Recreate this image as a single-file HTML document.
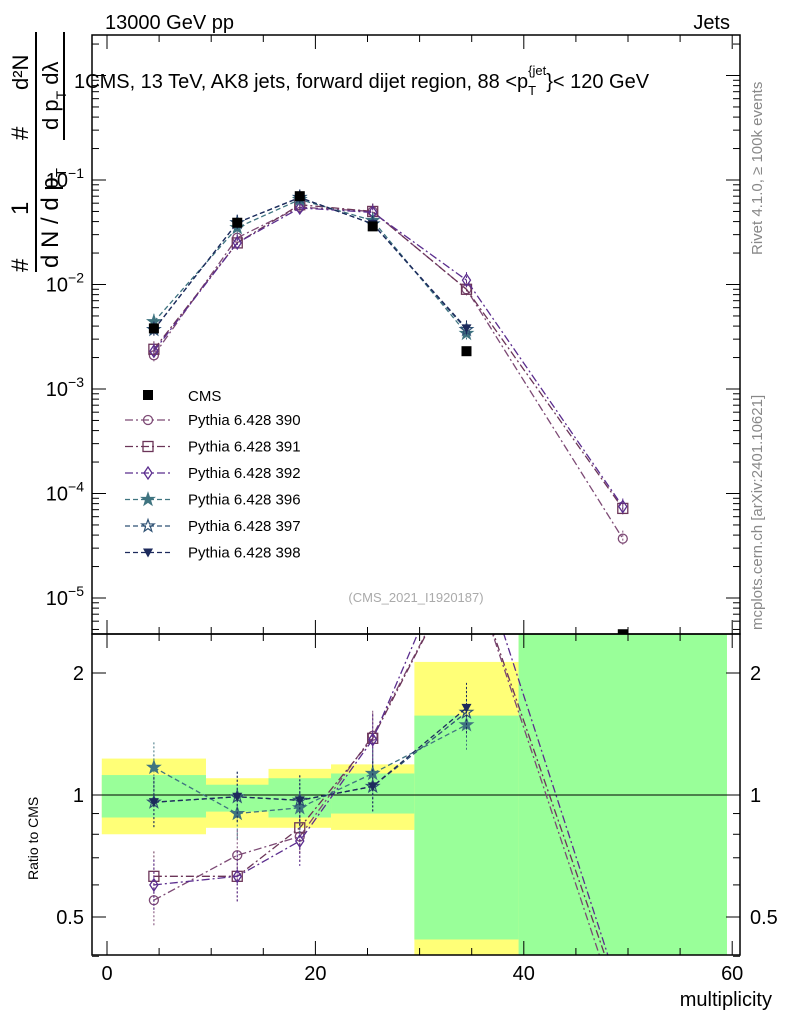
<!DOCTYPE html>
<html><head><meta charset="utf-8"><style>
body{margin:0;background:#fff;}
svg{display:block;font-family:"Liberation Sans",sans-serif;}
</style></head><body>
<svg id="c" width="786" height="1024" viewBox="0 0 786 1024">
<defs>
<clipPath id="cm"><rect x="92" y="35" width="648" height="599"/></clipPath>
<clipPath id="cr"><rect x="92" y="634" width="648" height="321"/></clipPath>
</defs>
<g id="bands" clip-path="url(#cr)"></g>
<g id="main" clip-path="url(#cm)"></g>
<g id="ratio" clip-path="url(#cr)"></g>
<g id="axes"></g>
<text x="105" y="29" font-size="20">13000 GeV pp</text>
<text x="730" y="29" font-size="20" text-anchor="end">Jets</text>
<text x="74" y="88" font-size="20">1CMS, 13 TeV, AK8 jets, forward dijet region, 88 &lt;p<tspan font-size="13" dy="7">T</tspan><tspan font-size="13" dy="-20" dx="-8">{jet</tspan><tspan dy="13">}&lt; 120 GeV</tspan></text>
<text x="416" y="602" font-size="13" fill="#aaa" text-anchor="middle">(CMS_2021_I1920187)</text>
<text transform="translate(762,255) rotate(-90)" font-size="15" fill="#888">Rivet 4.1.0, ≥ 100k events</text>
<text transform="translate(762,630) rotate(-90)" font-size="15" fill="#888">mcplots.cern.ch [arXiv:2401.10621]</text>
<g font-size="24">
<text transform="translate(28,272) rotate(-90)">#</text>
<text transform="translate(28,215) rotate(-90)">1</text>
<line x1="36" y1="32" x2="36" y2="272" stroke="#000" stroke-width="2"/>
<text transform="translate(58,268) rotate(-90)">d N / d p<tspan font-size="15" dy="8">T</tspan></text>
<text transform="translate(28,140) rotate(-90)">#</text>
<line x1="64" y1="32" x2="64" y2="140" stroke="#000" stroke-width="2"/>
<text transform="translate(58,130) rotate(-90)" font-size="22">d p<tspan font-size="14" dy="8">T</tspan><tspan dy="-8"> d</tspan>λ</text>
<text transform="translate(28,90) rotate(-90)" font-size="22">d²N</text>
</g>
<text transform="translate(38,880) rotate(-90)" font-size="14">Ratio to CMS</text>
<text x="772" y="1006" font-size="20" text-anchor="end">multiplicity</text>
<g id="legend"></g>
</svg>
<script>
const binEdges=[-0.5,9.5,15.5,21.5,29.5,39.5,59.5];
const binCenters=[4.5,12.5,18.5,25.5,34.5,49.5];
const cmsValues=[3.8e-3,0.039,0.07,0.036,2.3e-3,4.5e-6];
const bandGreenHi=[1.12,1.06,1.1,1.13,1.57,3];
const bandGreenLo=[0.88,0.91,0.88,0.9,0.44,0.3];
const bandYellowHi=[1.23,1.1,1.16,1.19,2.13,3];
const bandYellowLo=[0.8,0.83,0.83,0.82,0.3,0.3];
const seriesNames=["Pythia 6.428 390","Pythia 6.428 391","Pythia 6.428 392","Pythia 6.428 396","Pythia 6.428 397","Pythia 6.428 398"];
const s390=[2.1e-3,0.028,0.055,0.05,0.009,3.7e-5];
const s391=[2.4e-3,0.025,0.058,0.05,0.009,7.2e-5];
const s392=[2.3e-3,0.025,0.054,0.049,0.011,7.5e-5];
const s396=[4.4e-3,0.035,0.065,0.041,3.4e-3];
const s397=[3.7e-3,0.039,0.068,0.038,3.7e-3];
const s398=[3.7e-3,0.039,0.068,0.038,3.8e-3];
const r390=[0.55,0.71,0.79,1.4,3.9,0.27];
const r391=[0.63,0.63,0.83,1.38,3.9,0.3];
const r392=[0.6,0.63,0.77,1.37,4.8,0.31];
const r396=[1.17,0.9,0.93,1.13,1.49];
const r397=[0.96,0.99,0.97,1.05,1.6];
const r398=[0.96,0.99,0.97,1.05,1.64];
const xTicks=[0,20,40,60];
const yTickExp=[-5,-4,-3,-2,-1];
const rTicks=[0.5,1,2];

const NS="http://www.w3.org/2000/svg";
const X=v=>107+(v)*10.42;
const Y=v=>180-(Math.log10(v)+1)*104.5;
const R=v=>795-Math.log2(v)*122;
function mk(t,a,p){const e=document.createElementNS(NS,t);for(const k in a)e.setAttribute(k,a[k]);p.appendChild(e);return e;}
const bands=document.getElementById('bands'),main=document.getElementById('main'),ratio=document.getElementById('ratio'),axes=document.getElementById('axes'),leg=document.getElementById('legend');
for(let i=0;i<6;i++){
 const x0=X(binEdges[i]),x1=X(binEdges[i+1]);
 let e=mk('rect',{x:x0,y:R(bandYellowHi[i]),width:x1-x0,height:R(bandYellowLo[i])-R(bandYellowHi[i]),fill:'#ffff77'},bands);
 
 e=mk('rect',{x:x0,y:R(bandGreenHi[i]),width:x1-x0,height:R(bandGreenLo[i])-R(bandGreenHi[i]),fill:'#99ff99'},bands);
 
}
mk('line',{x1:92,x2:740,y1:R(1),y2:R(1),stroke:'#000'},ratio);
const series=[[s390,r390,'#7d4a75','o','8,3,2,3'],[s391,r391,'#6b3558','s','8,3,2,3'],[s392,r392,'#5b2d8e','d','8,3,2,3'],[s396,r396,'#3f7480','*','5,3'],[s397,r397,'#2f5274','*o','5,3'],[s398,r398,'#1d2a5c','v','5,3']];
function marker(type,x,y,c,g){
 let e;
 if(type=='o')e=mk('circle',{cx:x,cy:y,r:4.5,fill:'none',stroke:c,'stroke-width':1.3},g);
 else if(type=='s')e=mk('rect',{x:x-5,y:y-5,width:10,height:10,fill:'none',stroke:c,'stroke-width':1.3},g);
 else if(type=='d')e=mk('polygon',{points:`${x},${y-6} ${x+4},${y} ${x},${y+6} ${x-4},${y}`,fill:'none',stroke:c,'stroke-width':1.3},g);
 else if(type=='v')e=mk('polygon',{points:`${x-5},${y-4} ${x+5},${y-4} ${x},${y+5}`,fill:c},g);
 else {let p='';for(let k=0;k<10;k++){const a=-Math.PI/2+k*Math.PI/5,rr=k%2?2.6:6.5;p+=`${x+rr*Math.cos(a)},${y+rr*Math.sin(a)} `;}
  e=mk('polygon',{points:p,fill:type=='*'?c:'none',stroke:c,'stroke-width':1.2},g);}
 
}
series.forEach((s,k)=>{
 const [mv,rv,c,m,d]=s;
 let pm=mv.map((v,i)=>X(binCenters[i])+','+Y(v)).join(' ');
 let e=mk('polyline',{points:pm,fill:'none',stroke:c,'stroke-width':1.3,'stroke-dasharray':d},main);
 
 let pr=rv.map((v,i)=>X(binCenters[i])+','+R(v)).join(' ');
 e=mk('polyline',{points:pr,fill:'none',stroke:c,'stroke-width':1.3,'stroke-dasharray':d},ratio);
 
 mv.forEach((v,i)=>{const x=X(binCenters[i]),y=Y(v);
  mk('line',{x1:x,x2:x,y1:y-8,y2:y+8,stroke:c,'stroke-dasharray':'2,2'},main);marker(m,x,y,c,main);});
 rv.forEach((v,i)=>{const x=X(binCenters[i]),y=R(v);
  mk('line',{x1:x,x2:x,y1:y-25,y2:y+25,stroke:c,'stroke-dasharray':'2,2'},ratio);marker(m,x,y,c,ratio);});
 const ly=420+k*26.5;
 e=mk('line',{x1:125,x2:170,y1:ly,y2:ly,stroke:c,'stroke-width':1.3,'stroke-dasharray':d},leg);
 
 marker(m,148,ly,c,leg);
 e=mk('text',{x:188,y:ly+5,'font-size':15},leg);e.textContent=seriesNames[k];
 
});
cmsValues.forEach((v,i)=>{const x=X(binCenters[i]),y=Y(v);
 const e=mk('rect',{x:x-5,y:y-5,width:10,height:10,fill:'#000'},main);
 });
let e=mk('rect',{x:143,y:390,width:10,height:10,fill:'#000'},leg);

e=mk('text',{x:188,y:401,'font-size':15},leg);e.textContent='CMS';

mk('rect',{x:92,y:35,width:648,height:599,fill:'none',stroke:'#000','stroke-width':1.5},axes);
mk('rect',{x:92,y:634,width:648,height:321,fill:'none',stroke:'#000','stroke-width':1.5},axes);
for(let v=0;v<=60;v+=5){const x=X(v),L=v%20==0?14:7;
 mk('line',{x1:x,x2:x,y1:35,y2:35+L,stroke:'#000'},axes);
 mk('line',{x1:x,x2:x,y1:634,y2:634-L,stroke:'#000'},axes);
 mk('line',{x1:x,x2:x,y1:955,y2:955-L,stroke:'#000'},axes);
 mk('line',{x1:x,x2:x,y1:634,y2:634+L,stroke:'#000'},axes);}
xTicks.forEach(v=>{const t=mk('text',{x:X(v),y:980,'font-size':20,'text-anchor':'middle'},axes);t.textContent=v;
 });
for(let p=-6;p<=0;p++)for(let m=1;m<10;m++){const y=Y(m*Math.pow(10,p));if(y<35||y>634)continue;
 const L=m==1?14:7;mk('line',{x1:92,x2:92+L,y1:y,y2:y,stroke:'#000'},axes);mk('line',{x1:740,x2:740-L,y1:y,y2:y,stroke:'#000'},axes);}
yTickExp.forEach(p=>{const t=mk('text',{x:84,y:Y(Math.pow(10,p))+7,'font-size':20,'text-anchor':'end'},axes);
 t.innerHTML='10<tspan font-size="14" dy="-9">'+(p<0?'−':'')+Math.abs(p)+'</tspan>';
 });
[0.4,0.5,0.6,0.7,0.8,0.9,1,2].forEach(v=>{const y=R(v),L=(v==0.5||v==1||v==2)?14:7;
 mk('line',{x1:92,x2:92+L,y1:y,y2:y,stroke:'#000'},axes);mk('line',{x1:740,x2:740-L,y1:y,y2:y,stroke:'#000'},axes);});
rTicks.forEach(v=>{let t=mk('text',{x:84,y:R(v)+7,'font-size':20,'text-anchor':'end'},axes);t.textContent=v;
 
 t=mk('text',{x:750,y:R(v)+7,'font-size':20},axes);t.textContent=v;
 });
</script>
</body></html>
